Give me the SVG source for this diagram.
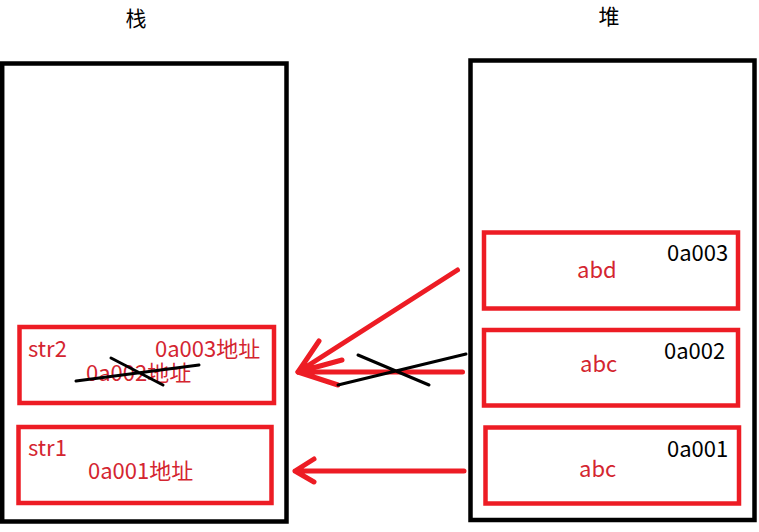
<svg xmlns="http://www.w3.org/2000/svg" width="759" height="532" viewBox="0 0 759 532">
<style>
.frame{fill:none;stroke:#000;stroke-width:4.5}
.cell{fill:none;stroke:#ED1C24;stroke-width:4.5}
.t{font-family:"Noto Sans CJK SC","Noto Sans",sans-serif;font-size:22px}
.h{font-family:"Noto Sans CJK SC","Noto Sans",sans-serif;font-size:21px}
.red{fill:#D42530}
.blk{fill:#000}
.arrow{fill:none;stroke:#ED1C24;stroke-width:5;stroke-linecap:round;stroke-linejoin:round}
.cross{fill:none;stroke:#000;stroke-width:3;stroke-linecap:round}
</style>
<rect width="759" height="532" fill="#fff"/>
<g id="stack">
<text class="h blk" x="136" y="26" text-anchor="middle">栈</text>
<rect class="frame" x="2.2" y="63.5" width="284.3" height="458"/>
</g>
<g id="heap">
<text class="h blk" x="609" y="24" text-anchor="middle">堆</text>
<rect class="frame" x="470.5" y="60.5" width="284" height="459.5"/>
</g>
<g id="str2">
<rect class="cell" x="19.5" y="327" width="254.5" height="76"/>
<text class="t red" x="28" y="357">str2</text>
<text class="t red" x="155" y="357">0a003地址</text>
<text class="t red" x="86" y="381">0a002地址</text>
<path class="cross" d="M76 381 L199 365 M111 358 L163 385"/>
</g>
<g id="str1">
<rect class="cell" x="18.5" y="427" width="253" height="76"/>
<text class="t red" x="28" y="456">str1</text>
<text class="t red" x="88" y="479">0a001地址</text>
</g>
<g id="h3">
<rect class="cell" x="484" y="232.5" width="254" height="76"/>
<text class="t blk" x="667" y="261">0a003</text>
<text class="t red" x="577" y="278">abd</text>
</g>
<g id="h2">
<rect class="cell" x="484" y="330" width="254" height="75.5"/>
<text class="t blk" x="664" y="359">0a002</text>
<text class="t red" x="580" y="372">abc</text>
</g>
<g id="h1">
<rect class="cell" x="485.5" y="427.5" width="253.5" height="76"/>
<text class="t blk" x="667" y="457">0a001</text>
<text class="t red" x="579" y="477">abc</text>
</g>
<g id="connectors">
<path class="arrow" d="M457.5 270 L298 372 M319 341 L298 372 L342 360"/>
<path class="arrow" d="M462.5 372 L298 372 L338 385"/>
<path class="cross" d="M358 355 L429 385 M338 385 L466 354"/>
<path class="arrow" d="M464 471 L295 471 M314 459 L295 471 L314 482"/>
</g>
</svg>
